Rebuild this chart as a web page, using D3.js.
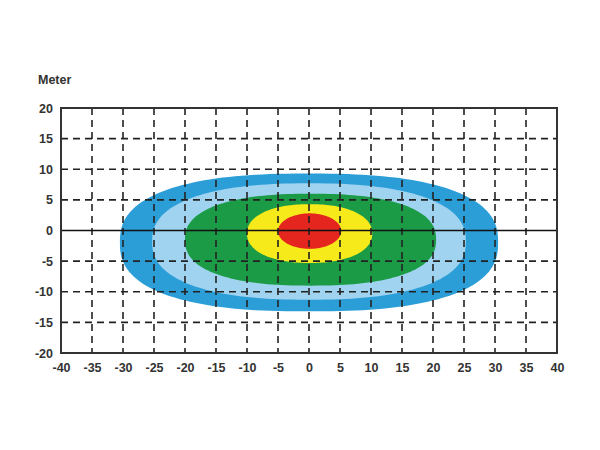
<!DOCTYPE html>
<html><head><meta charset="utf-8">
<script src="https://cdn.jsdelivr.net/npm/d3@7"></script>
<style>body{margin:0;background:#fff}text{font-family:"Liberation Sans",Arial,sans-serif;font-weight:bold;fill:#333}</style>
</head><body><svg id="c" width="600" height="450"></svg>
<script>
const zones = ["Far", "Wide", "Mid", "Near", "Hot"];
const zoneLeft = [-30.5, -25.3, -20, -10, -5];
const zoneRight = [30.5, 25.3, 20.5, 10.2, 5.2];
const zoneTop = [9.3, 7.7, 6, 4.3, 2.8];
const zoneBottom = [-13.2, -11.3, -9, -5.3, -3];
const zoneColors = ["#2b9ed8", "#9fd3ef", "#1c9b47", "#f7ea1b", "#e5261f"];
const zoneShape = [2.5, 2.4, 2.4, 2.2, 2.0];
const xTicks = [-40,-35,-30,-25,-20,-15,-10,-5,0,5,10,15,20,25,30,35,40];
const yTicks = [-20,-15,-10,-5,0,5,10,15,20];

const svg = d3.select("#c");
const x = d3.scaleLinear().domain([-40,40]).range([61,557]);
const y = d3.scaleLinear().domain([-20,20]).range([353,108]);

const line = d3.line().x(d=>x(d[0])).y(d=>y(d[1])).curve(d3.curveLinearClosed);
zones.forEach((z,i)=>{
  const cx=(zoneLeft[i]+zoneRight[i])/2, a=(zoneRight[i]-zoneLeft[i])/2;
  const cy=(zoneTop[i]+zoneBottom[i])/2, b=(zoneTop[i]-zoneBottom[i])/2;
  const n=zoneShape[i], pts=[];
  for(let k=0;k<180;k++){
    const t=k/180*2*Math.PI, c=Math.cos(t), s=Math.sin(t);
    pts.push([cx+a*Math.sign(c)*Math.pow(Math.abs(c),2/n), cy+b*Math.sign(s)*Math.pow(Math.abs(s),2/n)]);
  }
  svg.append("path").attr("d",line(pts)).attr("fill",zoneColors[i]);
});

const g=svg.append("g").attr("stroke","#222").attr("stroke-width",1.6).attr("stroke-dasharray","7,5");
xTicks.slice(1,-1).forEach(v=>g.append("line").attr("x1",x(v)).attr("x2",x(v)).attr("y1",y(20)).attr("y2",y(-20)));
yTicks.slice(1,-1).filter(v=>v!==0).forEach(v=>g.append("line").attr("x1",x(-40)).attr("x2",x(40)).attr("y1",y(v)).attr("y2",y(v)));
svg.append("line").attr("x1",x(-40)).attr("x2",x(40)).attr("y1",y(0)).attr("y2",y(0)).attr("stroke","#111").attr("stroke-width",1.5);
svg.append("rect").attr("x",x(-40)).attr("y",y(20)).attr("width",x(40)-x(-40)).attr("height",y(-20)-y(20)).attr("fill","none").attr("stroke","#333").attr("stroke-width",2);

const xa=svg.append("g").attr("transform",`translate(0,${y(-20)})`).call(d3.axisBottom(x).tickValues(xTicks).tickFormat(d=>String(d)).tickSize(0).tickPadding(10));
const ya=svg.append("g").attr("transform",`translate(${x(-40)},0)`).call(d3.axisLeft(y).tickValues(yTicks).tickFormat(d=>String(d)).tickSize(0).tickPadding(8));
[xa,ya].forEach(a=>{a.select(".domain").remove();a.selectAll("text").attr("font-size",12.5).style("font-family","'Liberation Sans',Arial,sans-serif").style("font-weight","bold").attr("fill","#333");});
svg.append("text").attr("x",38).attr("y",84).attr("font-size",12.5).text("Meter");
</script></body></html>
